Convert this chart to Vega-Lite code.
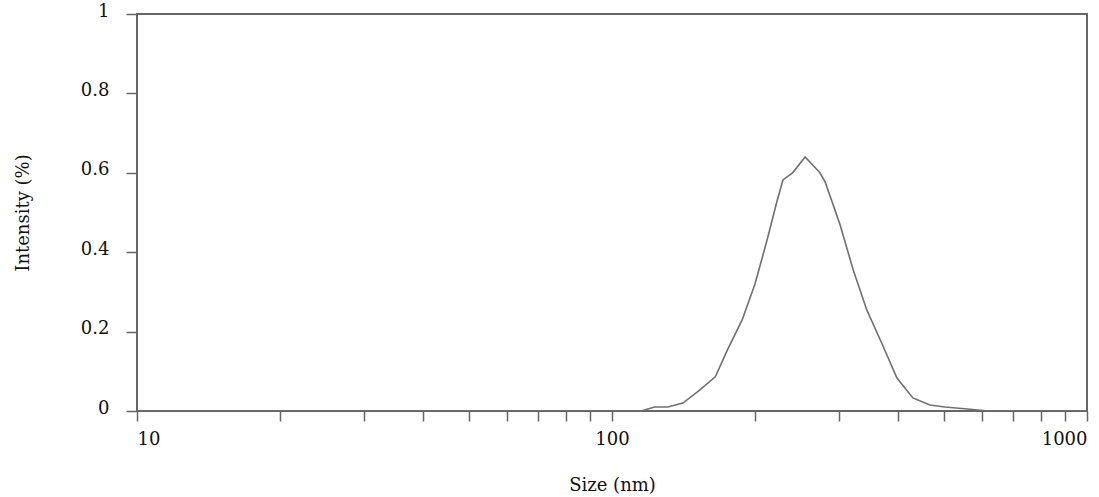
{
  "$schema": "https://vega.github.io/schema/vega-lite/v6.json",
  "width": 950,
  "height": 397,
  "autosize": "none",
  "padding": {"left": 137, "top": 14, "right": 12, "bottom": 86},
  "background": "white",
  "config": {
    "view": {"stroke": "#666666", "strokeWidth": 2},
    "font": "DejaVu Serif"
  },
  "data": {
    "values": [
      {"size": 10, "intensity": 0},
      {"size": 115, "intensity": 0},
      {"size": 123, "intensity": 0.01},
      {"size": 131, "intensity": 0.01},
      {"size": 141, "intensity": 0.02},
      {"size": 152, "intensity": 0.05},
      {"size": 165, "intensity": 0.086},
      {"size": 175, "intensity": 0.154},
      {"size": 188, "intensity": 0.23},
      {"size": 200, "intensity": 0.32},
      {"size": 212, "intensity": 0.43},
      {"size": 222, "intensity": 0.524},
      {"size": 229, "intensity": 0.582},
      {"size": 240, "intensity": 0.6},
      {"size": 255, "intensity": 0.64},
      {"size": 274, "intensity": 0.6},
      {"size": 281, "intensity": 0.577},
      {"size": 302, "intensity": 0.47},
      {"size": 322, "intensity": 0.355},
      {"size": 344, "intensity": 0.254},
      {"size": 370, "intensity": 0.17},
      {"size": 398, "intensity": 0.083},
      {"size": 430, "intensity": 0.033},
      {"size": 467, "intensity": 0.015},
      {"size": 502, "intensity": 0.01},
      {"size": 560, "intensity": 0.005},
      {"size": 620, "intensity": 0},
      {"size": 1000, "intensity": 0}
    ]
  },
  "mark": {"type": "line", "color": "#707070", "strokeWidth": 1.6, "clip": true},
  "encoding": {
    "x": {
      "field": "size",
      "type": "quantitative",
      "scale": {"type": "log", "domain": [10, 1000], "nice": false},
      "axis": {
        "title": "Size  (nm)",
        "values": [10, 20, 30, 40, 50, 60, 70, 80, 90, 100, 200, 300, 400, 500, 600, 700, 800, 900, 1000],
        "labelExpr": "datum.value == 10 || datum.value == 100 || datum.value == 1000 ? datum.label : ''",
        "format": "d",
        "grid": false,
        "domain": false,
        "tickSize": 10,
        "tickWidth": 1.5,
        "tickColor": "#666666",
        "labelFont": "DejaVu Serif",
        "labelFontSize": 18,
        "labelColor": "#111111",
        "labelPadding": 9,
        "labelOverlap": false,
        "titleFont": "DejaVu Serif",
        "titleFontSize": 18,
        "titleFontWeight": "normal",
        "titleColor": "#111111",
        "titlePadding": 28
      }
    },
    "y": {
      "field": "intensity",
      "type": "quantitative",
      "scale": {"domain": [0, 1], "nice": false},
      "axis": {
        "title": "Intensity (%)",
        "values": [0, 0.2, 0.4, 0.6, 0.8, 1],
        "format": "~g",
        "grid": false,
        "domain": false,
        "tickSize": 11,
        "tickWidth": 1.5,
        "tickColor": "#666666",
        "labelFont": "DejaVu Serif",
        "labelFontSize": 18,
        "labelColor": "#111111",
        "labelPadding": 17,
        "labelOffset": -3,
        "titleFont": "DejaVu Serif",
        "titleFontSize": 18,
        "titleFontWeight": "normal",
        "titleColor": "#111111",
        "titlePadding": 48
      }
    }
  }
}
